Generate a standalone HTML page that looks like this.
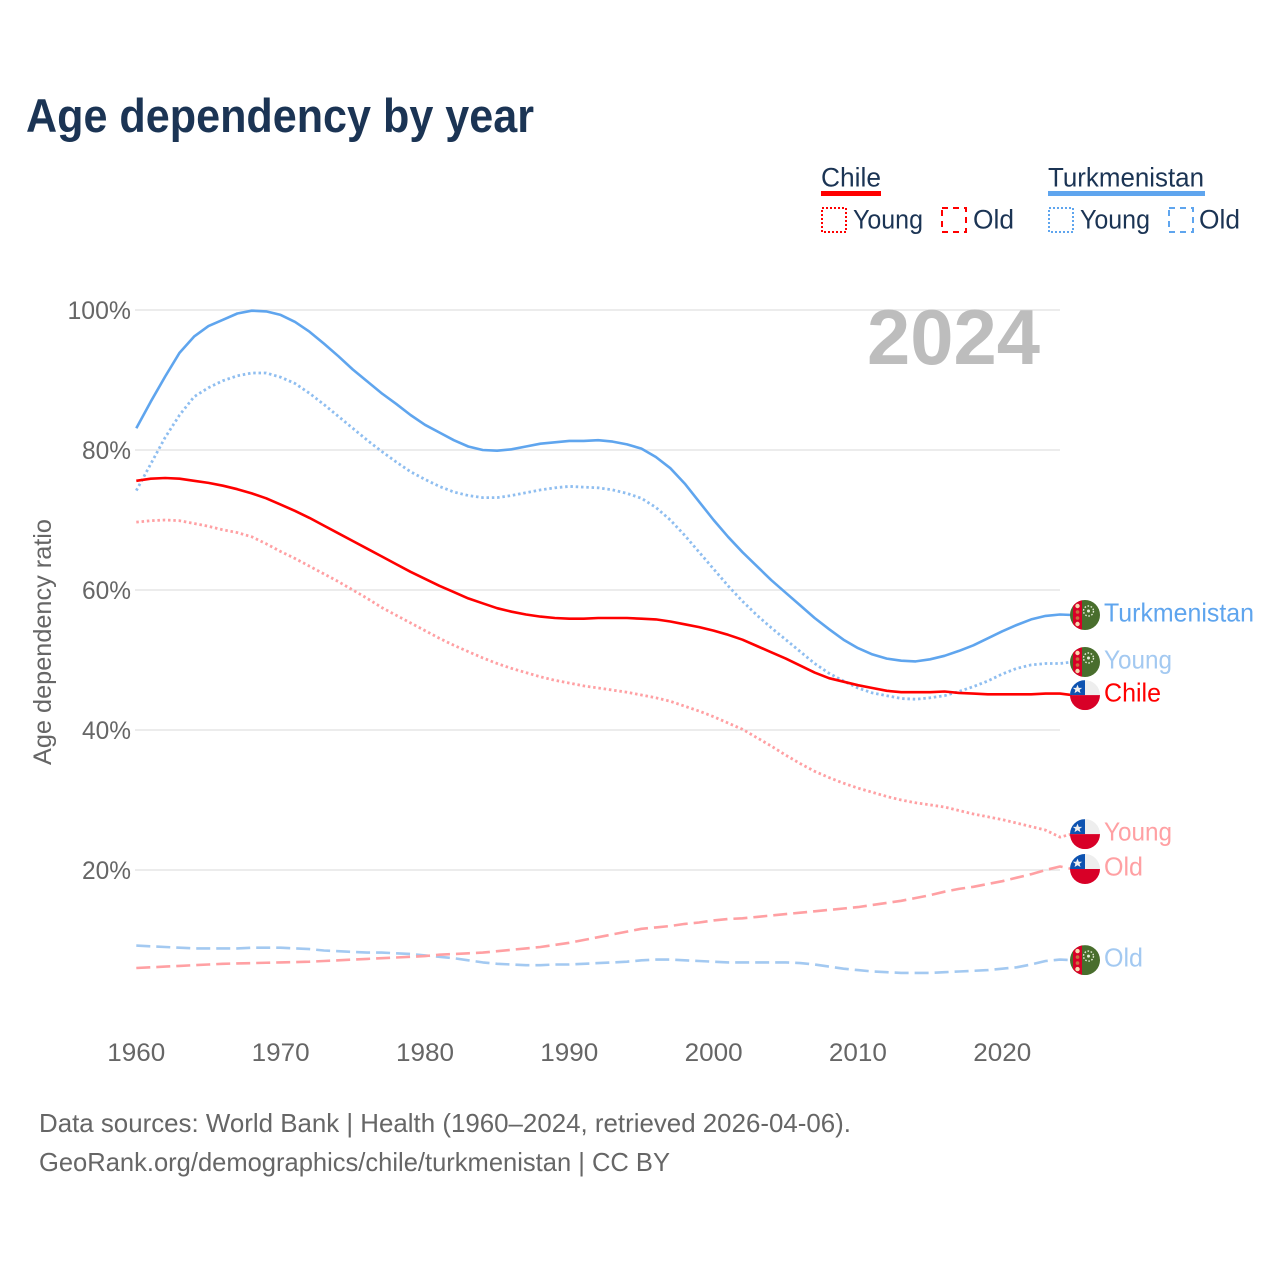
<!DOCTYPE html>
<html lang="en">
<head>
<meta charset="utf-8">
<title>Age dependency by year</title>
<style>
html,body{margin:0;padding:0;background:#fff}
svg{display:block}
text{font-family:"Liberation Sans",sans-serif}
</style>
</head>
<body>
<svg id="chart" xmlns="http://www.w3.org/2000/svg" width="1280" height="1280" viewBox="0 0 1280 1280">
  <defs>
    <clipPath id="flag-clip"><circle cx="0" cy="0" r="15"/></clipPath>
    <g id="flag-chile">
      <g clip-path="url(#flag-clip)">
        <rect x="-15" y="-15" width="30" height="15" fill="#eeeeee"/>
        <rect x="-15" y="-15" width="15" height="15" fill="#0d52b0"/>
        <rect x="-15" y="0" width="30" height="15" fill="#d80027"/>
        <polygon points="-7.5,-10.5 -6.2,-7.2 -2.8,-7.2 -5.4,-5.2 -4.5,-2 -7.5,-3.8 -10.5,-2 -9.6,-5.2 -12.2,-7.2 -8.8,-7.2" fill="#f0f0f0"/>
      </g>
    </g>
    <g id="flag-turkmenistan">
      <g clip-path="url(#flag-clip)">
        <rect x="-15" y="-15" width="30" height="30" fill="#496e2d"/>
        <rect x="-12" y="-15" width="9" height="30" fill="#d80027"/>
        <circle cx="-7.5" cy="-9" r="2.2" fill="#f6d9b0"/>
        <circle cx="-7.5" cy="-3" r="1.8" fill="#c9703f"/>
        <circle cx="-7.5" cy="3" r="1.8" fill="#c9703f"/>
        <circle cx="-7.5" cy="9" r="2.2" fill="#f6d9b0"/>
        <circle cx="3.5" cy="-4" r="5" fill="none" stroke="#e6ecd8" stroke-width="1.4" stroke-dasharray="1.6 1.6"/>
        <circle cx="3.5" cy="-4" r="1.5" fill="#e6ecd8"/>
      </g>
    </g>
  </defs>

  <text x="26" y="132" font-size="47" font-weight="700" fill="#1b3454" textLength="508" lengthAdjust="spacingAndGlyphs">Age dependency by year</text>

  <g fill="#1b3454" font-size="27">
    <g>
      <text x="821" y="186.5" textLength="60" lengthAdjust="spacingAndGlyphs">Chile</text>
      <rect x="821" y="191" width="60" height="5" fill="#ff0000"/>
      <rect x="822" y="208" width="24" height="24" fill="none" stroke="#ff0000" stroke-width="2" stroke-dasharray="2 2"/>
      <text x="853" y="228.5" textLength="70" lengthAdjust="spacingAndGlyphs">Young</text>
      <rect x="942" y="208" width="24" height="24" fill="none" stroke="#ff0000" stroke-width="2" stroke-dasharray="6 5"/>
      <text x="973" y="228.5" textLength="41" lengthAdjust="spacingAndGlyphs">Old</text>
    </g>
    <g>
      <text x="1048" y="186.5" textLength="156" lengthAdjust="spacingAndGlyphs">Turkmenistan</text>
      <rect x="1048" y="191" width="157" height="5" fill="#5fa5ee"/>
      <rect x="1049" y="208" width="24" height="24" fill="none" stroke="#5fa5ee" stroke-width="2" stroke-dasharray="2 2"/>
      <text x="1080" y="228.5" textLength="70" lengthAdjust="spacingAndGlyphs">Young</text>
      <rect x="1169" y="208" width="24" height="24" fill="none" stroke="#5fa5ee" stroke-width="2" stroke-dasharray="6 5"/>
      <text x="1199" y="228.5" textLength="41" lengthAdjust="spacingAndGlyphs">Old</text>
    </g>
  </g>

  <g id="grid"></g>
  <text x="867" y="364" font-size="78" font-weight="700" fill="#bdbdbd" textLength="173" lengthAdjust="spacingAndGlyphs">2024</text>
  <g id="y-ticks"></g>
  <g id="x-ticks"></g>
  <text transform="translate(51 642) rotate(-90)" text-anchor="middle" font-size="25" fill="#666666" textLength="246" lengthAdjust="spacingAndGlyphs">Age dependency ratio</text>
  <g id="series"></g>
  <g id="end-labels"></g>

  <text x="39" y="1132" font-size="26" fill="#666666" textLength="812" lengthAdjust="spacingAndGlyphs">Data sources: World Bank | Health (1960–2024, retrieved 2026-04-06).</text>
  <text x="39" y="1171" font-size="26" fill="#666666" textLength="631" lengthAdjust="spacingAndGlyphs">GeoRank.org/demographics/chile/turkmenistan | CC BY</text>
</svg>

<script>
const startYear = 1960;
const xTickYears = [1960, 1970, 1980, 1990, 2000, 2010, 2020];
const yTickValues = [20, 40, 60, 80, 100];

const turkmenistanTotal = [
  83.1, 86.9, 90.5, 93.9, 96.2, 97.7, 98.6, 99.5, 99.9, 99.8,
  99.3, 98.3, 96.9, 95.2, 93.4, 91.5, 89.8, 88.1, 86.6, 85.0,
  83.6, 82.5, 81.4, 80.5, 80.0, 79.9, 80.1, 80.5, 80.9, 81.1,
  81.3, 81.3, 81.4, 81.2, 80.8, 80.2, 79.0, 77.4, 75.2, 72.6,
  70.0, 67.6, 65.4, 63.4, 61.4, 59.6, 57.8, 56.0, 54.4, 52.9,
  51.7, 50.8, 50.2, 49.9, 49.8, 50.1, 50.6, 51.3, 52.1, 53.1,
  54.1, 55.0, 55.8, 56.3, 56.5
];
const turkmenistanYoung = [
  74.2, 78.0, 81.8, 85.0, 87.6, 88.9, 89.9, 90.6, 91.0, 91.0,
  90.4, 89.5, 88.1, 86.5, 84.8, 83.1, 81.4, 79.8, 78.3, 76.9,
  75.8, 74.8, 74.0, 73.5, 73.2, 73.2, 73.5, 73.9, 74.3, 74.6,
  74.8, 74.7, 74.6, 74.3, 73.8, 73.1, 71.8, 70.0, 67.8, 65.4,
  63.0, 60.6, 58.4, 56.4, 54.6, 52.9, 51.2, 49.5, 48.1, 47.0,
  46.0, 45.3, 44.9, 44.5, 44.4, 44.6, 44.9, 45.5, 46.2, 47.0,
  48.0, 48.8, 49.3, 49.5, 49.5
];
const turkmenistanOld = [
  9.2, 9.1, 9.0, 8.9, 8.8, 8.8, 8.8, 8.8, 8.9, 8.9,
  8.9, 8.8, 8.7, 8.5, 8.4, 8.3, 8.2, 8.2, 8.1, 8.0,
  7.8, 7.6, 7.4, 7.1, 6.8, 6.6, 6.5, 6.4, 6.4, 6.5,
  6.5, 6.6, 6.7, 6.8, 6.9, 7.1, 7.2, 7.2, 7.1, 7.0,
  6.9, 6.8, 6.8, 6.8, 6.8, 6.8, 6.7, 6.5, 6.2, 5.9,
  5.7, 5.5, 5.4, 5.3, 5.3, 5.3, 5.4, 5.5, 5.6, 5.7,
  5.9, 6.1, 6.5, 7.0, 7.2
];
const chileTotal = [
  75.6, 75.9, 76.0, 75.9, 75.6, 75.3, 74.9, 74.4, 73.8, 73.1,
  72.2, 71.3, 70.3, 69.2, 68.1, 67.0, 65.9, 64.8, 63.7, 62.6,
  61.6, 60.6, 59.7, 58.8, 58.1, 57.4, 56.9, 56.5, 56.2, 56.0,
  55.9, 55.9, 56.0, 56.0, 56.0, 55.9, 55.8, 55.5, 55.1, 54.7,
  54.2, 53.6, 52.9, 52.0, 51.1, 50.2, 49.2, 48.2, 47.4, 46.9,
  46.4, 46.0, 45.6, 45.4, 45.4, 45.4, 45.5, 45.3, 45.2, 45.1,
  45.1, 45.1, 45.1, 45.2, 45.2
];
const chileYoung = [
  69.7, 69.9, 70.0, 69.9, 69.5, 69.1, 68.6, 68.2, 67.6, 66.6,
  65.5, 64.5, 63.4, 62.3, 61.2, 60.0, 58.8, 57.5, 56.4, 55.3,
  54.2, 53.1, 52.1, 51.2, 50.3, 49.5, 48.8, 48.2, 47.6, 47.1,
  46.7, 46.3, 46.0, 45.7, 45.4, 45.0, 44.6, 44.1, 43.4, 42.7,
  41.9, 41.0, 40.1, 38.9, 37.7, 36.4, 35.2, 34.1, 33.2, 32.4,
  31.7, 31.1, 30.5, 30.0, 29.6, 29.3, 29.0, 28.5, 28.0, 27.6,
  27.2, 26.7, 26.2, 25.7, 24.7
];
const chileOld = [
  6.0, 6.1, 6.2, 6.3, 6.4, 6.5, 6.6, 6.65, 6.7, 6.75,
  6.8, 6.85, 6.9, 7.0, 7.1, 7.2, 7.3, 7.4, 7.5, 7.6,
  7.7, 7.9, 8.0, 8.1, 8.2, 8.4, 8.6, 8.8, 9.0, 9.3,
  9.6, 10.0, 10.4, 10.8, 11.2, 11.6, 11.8, 12.0, 12.3, 12.5,
  12.8, 13.0, 13.1, 13.3, 13.5, 13.7, 13.9, 14.1, 14.3, 14.5,
  14.7, 15.0, 15.3, 15.6, 16.0, 16.4, 16.9, 17.3, 17.6, 18.0,
  18.4, 18.9, 19.4, 20.0, 20.5
];

const SVG_NS = 'http://www.w3.org/2000/svg';
function xScale(year) { return 136.3 + (year - 1960) * (1060 - 136.3) / 64; }
function yScale(value) { return 1010 - value * 7; }
function make(tag, attrs, parent) {
  const el = document.createElementNS(SVG_NS, tag);
  for (const k in attrs) el.setAttribute(k, attrs[k]);
  parent.appendChild(el);
  return el;
}

const gridGroup = document.getElementById('grid');
const yTickGroup = document.getElementById('y-ticks');
const xTickGroup = document.getElementById('x-ticks');
const seriesGroup = document.getElementById('series');
const labelGroup = document.getElementById('end-labels');

yTickValues.forEach(function (v) {
  const line = make('line', { x1: 135, x2: 1060, y1: yScale(v), y2: yScale(v), stroke: '#e6e6e6', 'stroke-width': 1.5 }, gridGroup);
  
  
  const label = String(v) + '%';
  const t = make('text', { x: 131, y: yScale(v) + 9, 'text-anchor': 'end', 'font-size': 25, fill: '#666666', textLength: 14.5 * String(v).length + 20, lengthAdjust: 'spacingAndGlyphs' }, yTickGroup);
  t.textContent = label;
  
  
});

xTickYears.forEach(function (yr) {
  const t = make('text', { x: xScale(yr), y: 1061, 'text-anchor': 'middle', 'font-size': 25, fill: '#666666', textLength: 58, lengthAdjust: 'spacingAndGlyphs' }, xTickGroup);
  t.textContent = String(yr);
  
  
});

const seriesList = [
  { key: 'turkmenistan-old', values: turkmenistanOld, color: '#a3c9f1', dash: '14 6', label: 'Old', flag: 'flag-turkmenistan', nudge: 0.5, width: 39, w: 2.6 },
  { key: 'chile-old', values: chileOld, color: '#ffa0a3', dash: '14 6', label: 'Old', flag: 'flag-chile', nudge: 2.5, width: 39, w: 2.6 },
  { key: 'chile-young', values: chileYoung, color: '#ffa0a3', dash: '2.5 2.8', label: 'Young', flag: 'flag-chile', nudge: -3, width: 68, w: 2.8 },
  { key: 'turkmenistan-young', values: turkmenistanYoung, color: '#8fbef0', labelColor: '#a3c9f1', dash: '2.5 2.8', label: 'Young', flag: 'flag-turkmenistan', nudge: -1.5, width: 68, w: 2.8 },
  { key: 'turkmenistan-total', values: turkmenistanTotal, color: '#5fa5ee', dash: null, label: 'Turkmenistan', flag: 'flag-turkmenistan', nudge: 0.5, width: 150, w: 2.6 },
  { key: 'chile-total', values: chileTotal, color: '#ff0000', dash: null, label: 'Chile', flag: 'flag-chile', nudge: 1.5, width: 57, w: 2.6 }
];

seriesList.forEach(function (s) {
  const pts = s.values.map(function (v, i) { return xScale(startYear + i).toFixed(2) + ',' + yScale(v).toFixed(2); });
  const lastY = yScale(s.values[s.values.length - 1]);
  const flagY = lastY + s.nudge;
  const attrs = { points: pts.join(' ') + ' 1060,' + lastY.toFixed(2) + ' 1072,' + flagY.toFixed(2), fill: 'none', stroke: s.color, 'stroke-width': s.w, 'stroke-linejoin': 'round' };
  if (s.dash) attrs['stroke-dasharray'] = s.dash;
  const line = make('polyline', attrs, seriesGroup);
  
  

  const flag = make('use', { href: '#' + s.flag, x: 1085, y: flagY }, labelGroup);
  
  

  const t = make('text', { x: 1104, y: flagY + 6.5, 'font-size': 26, fill: s.labelColor || s.color, textLength: s.width, lengthAdjust: 'spacingAndGlyphs' }, labelGroup);
  t.textContent = s.label;
  
  
});
</script>
</body>
</html>
